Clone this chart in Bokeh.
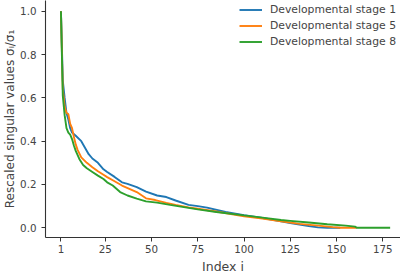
from bokeh.plotting import figure
from bokeh.models import FixedTicker, Range1d, Legend, LegendItem, NumeralTickFormatter
from bokeh.embed import file_html
from bokeh.resources import INLINE

# Data
stage1_idx = [1, 2, 3, 4, 5, 6, 7, 9, 12, 14, 16, 18, 21, 24, 26, 30, 34, 37, 42, 47, 53, 58, 63, 70, 75, 80, 90, 100, 110, 120, 125, 130, 135, 140, 145, 152]
stage1_val = [1.0, 0.68, 0.60, 0.53, 0.50, 0.46, 0.44, 0.425, 0.40, 0.37, 0.34, 0.32, 0.30, 0.27, 0.258, 0.235, 0.21, 0.203, 0.188, 0.167, 0.149, 0.142, 0.126, 0.106, 0.100, 0.093, 0.073, 0.058, 0.045, 0.030, 0.022, 0.015, 0.008, 0.002, 0.0, 0.0]

stage5_idx = [1, 2, 3, 4, 5, 6, 7, 8, 9, 10, 12, 15, 18, 21, 24, 26, 30, 34, 38, 42, 47, 52, 58, 63, 70, 75, 85, 100, 110, 120, 130, 140, 148, 152, 161]
stage5_val = [1.0, 0.64, 0.56, 0.53, 0.525, 0.48, 0.46, 0.42, 0.385, 0.36, 0.325, 0.30, 0.28, 0.261, 0.245, 0.234, 0.215, 0.195, 0.18, 0.165, 0.136, 0.128, 0.115, 0.106, 0.094, 0.088, 0.075, 0.053, 0.042, 0.030, 0.018, 0.010, 0.003, 0.0, 0.0]

stage8_idx = [1, 2, 3, 4, 5, 6, 7, 8, 9, 11, 13, 15, 18, 21, 24, 26, 29, 33, 37, 42, 47, 53, 60, 70, 75, 85, 100, 110, 120, 125, 135, 145, 155, 160, 161, 179]
stage8_val = [1.0, 0.61, 0.52, 0.46, 0.44, 0.43, 0.41, 0.38, 0.355, 0.317, 0.29, 0.275, 0.258, 0.241, 0.225, 0.21, 0.195, 0.165, 0.149, 0.135, 0.122, 0.116, 0.106, 0.092, 0.085, 0.073, 0.057, 0.047, 0.036, 0.032, 0.024, 0.016, 0.010, 0.005, 0.0, 0.0]

series_names = ["Developmental stage 1", "Developmental stage 5", "Developmental stage 8"]
x_ticks = [1, 25, 50, 75, 100, 125, 150, 175]
y_ticks = [0.0, 0.2, 0.4, 0.6, 0.8, 1.0]

colors = ["#1f77b4", "#ff7f0e", "#2ca02c"]
font = "DejaVu Sans"
text_col = "#444444"
axis_col = "#333333"

FRAME_H = 239
p = figure(width=400, height=276, output_backend="svg", toolbar_location=None,
           x_range=Range1d(-7.35, 184.6), y_range=Range1d(-0.045, 1.05),
           min_border_left=40, min_border_right=0, min_border_top=0, min_border_bottom=37)
p.outline_line_color = None
p.xgrid.visible = False
p.ygrid.visible = False
p.background_fill_color = "white"

renderers = []
for xs, ys, c in zip([stage1_idx, stage5_idx, stage8_idx], [stage1_val, stage5_val, stage8_val], colors):
    r = p.line(xs, ys, line_color=c, line_width=1.9)
    renderers.append(r)

for ax in (p.xaxis[0], p.yaxis[0]):
    ax.axis_line_color = axis_col
    ax.axis_line_width = 1.1
    ax.major_tick_line_color = axis_col
    ax.major_tick_out = 4
    ax.major_tick_in = 0
    ax.minor_tick_line_color = None
    ax.major_label_text_font = font
    ax.major_label_text_font_size = "10.3px"
    ax.major_label_text_color = text_col
    ax.axis_label_text_font = font
    ax.axis_label_text_font_size = "12.5px"
    ax.axis_label_text_font_style = "normal"
    ax.axis_label_text_color = text_col

p.yaxis[0].axis_label_text_font_size = "12px"
p.xaxis[0].ticker = FixedTicker(ticks=x_ticks)
p.yaxis[0].ticker = FixedTicker(ticks=y_ticks)
p.yaxis[0].formatter = NumeralTickFormatter(format="0.0")
p.xaxis[0].major_label_standoff = 3
p.yaxis[0].major_label_standoff = 5
p.xaxis[0].axis_label = "Index i"
p.yaxis[0].axis_label = "Rescaled singular values σᵢ/σ₁"
p.xaxis[0].axis_label_standoff = 3
p.yaxis[0].axis_label_standoff = 0

legend = Legend(items=[LegendItem(label=n, renderers=[r]) for n, r in zip(series_names, renderers)],
                location=(194, FRAME_H - 50))
legend.border_line_color = None
legend.background_fill_alpha = 0
legend.label_text_font = font
legend.label_text_font_size = "10.8px"
legend.label_text_color = text_col
legend.glyph_width = 23
legend.glyph_height = 13
legend.label_height = 13
legend.label_standoff = 8
legend.spacing = 3
legend.padding = 0
legend.margin = 0
p.add_layout(legend)

open("out.html", "w").write(file_html(p, INLINE))
